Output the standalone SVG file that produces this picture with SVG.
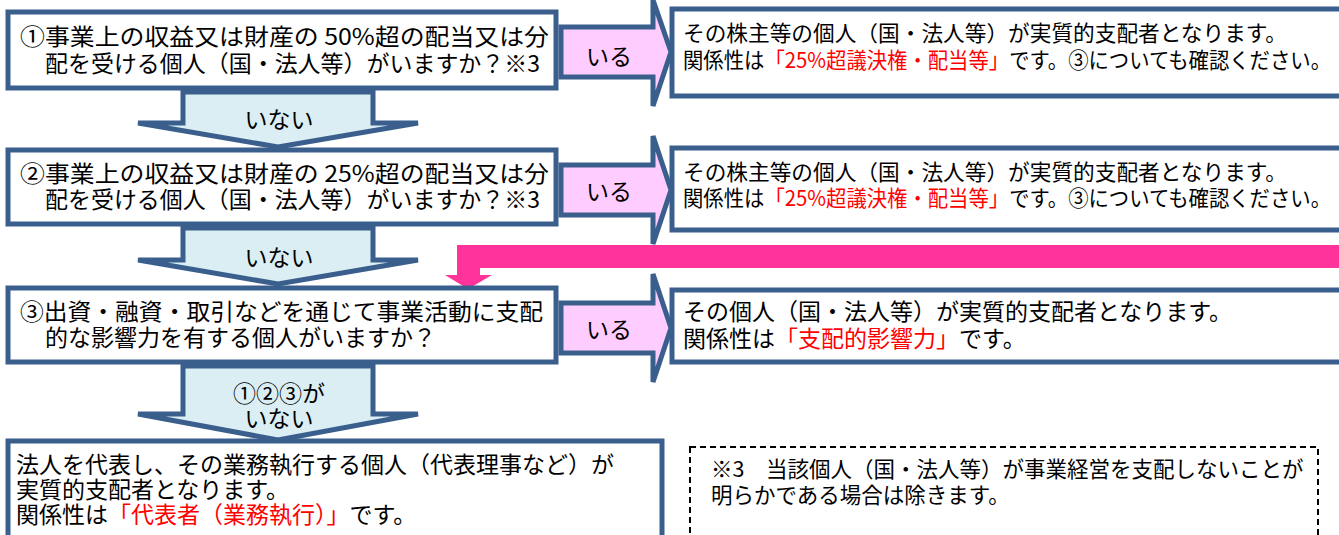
<svg xmlns="http://www.w3.org/2000/svg" width="1339" height="535" viewBox="0 0 1339 535">
<style>
.box{fill:#fff;stroke:#3A5F8D;stroke-width:5}
.dn{fill:#DAEEF3;stroke:#3A5F8D;stroke-width:5;stroke-linejoin:miter}
.ir{fill:#FFCCFF;stroke:#3A5F8D;stroke-width:5;stroke-linejoin:miter}
.t{font-family:"Noto Sans CJK JP","Noto Sans CJK SC",sans-serif;fill:#000}
.q{font-size:23px}
.r{font-size:21.5px}
.red{fill:#FF0000}
.lab{font-size:23px;text-anchor:middle}
</style>
<g id="connectors">
  <path id="pink" d="M1345,245 L1345,268 L480,268 L480,275 L492,275 L468,289 L445,275 L457,275 L457,245 Z" fill="#FF3399"/>
  <g id="no1"><path class="dn" d="M183,92 L373,92 L373,123 L418,123 L278,147 L138,123 L183,123 Z"/><text class="t lab" x="279" y="128">いない</text></g>
  <g id="no2"><path class="dn" d="M183,228 L373,228 L373,260 L418,260 L278,284 L138,260 L183,260 Z"/><text class="t lab" x="279" y="266">いない</text></g>
  <g id="no3"><path class="dn" d="M183,366 L373,366 L373,414 L418,414 L278,440 L138,414 L183,414 Z"/><text class="t lab" x="279" y="402">①②③が</text><text class="t lab" x="279" y="427">いない</text></g>
  <g id="yes1"><path class="ir" d="M561,27 L653,27 L653,0 L671,52 L653,106 L653,77 L561,77 Z"/><text class="t lab" x="609" y="65">いる</text></g>
  <g id="yes2"><path class="ir" d="M561,165 L653,165 L653,136 L671,190 L653,244 L653,215 L561,215 Z"/><text class="t lab" x="609" y="200">いる</text></g>
  <g id="yes3"><path class="ir" d="M561,303 L653,303 L653,274 L671,328 L653,382 L653,353 L561,353 Z"/><text class="t lab" x="609" y="338">いる</text></g>
</g>
<g id="q1">
  <rect class="box" x="8" y="12" width="548" height="76"/>
  <text class="t q" x="20" y="45" textLength="529" lengthAdjust="spacingAndGlyphs">①事業上の収益又は財産の 50%超の配当又は分</text>
  <text class="t q" x="45" y="72" textLength="495" lengthAdjust="spacingAndGlyphs">配を受ける個人（国・法人等）がいますか？※3</text>
</g>
<g id="q2">
  <rect class="box" x="8" y="150" width="548" height="74"/>
  <text class="t q" x="20" y="182" textLength="529" lengthAdjust="spacingAndGlyphs">②事業上の収益又は財産の 25%超の配当又は分</text>
  <text class="t q" x="45" y="208" textLength="495" lengthAdjust="spacingAndGlyphs">配を受ける個人（国・法人等）がいますか？※3</text>
</g>
<g id="q3">
  <rect class="box" x="8" y="288" width="548" height="74"/>
  <text class="t q" x="20" y="320" textLength="523" lengthAdjust="spacingAndGlyphs">③出資・融資・取引などを通じて事業活動に支配</text>
  <text class="t q" x="45" y="346">的な影響力を有する個人がいますか？</text>
</g>
<g id="a1">
  <rect class="box" x="672" y="9" width="680" height="87"/>
  <text class="t r" x="683" y="41" textLength="604" lengthAdjust="spacingAndGlyphs">その株主等の個人（国・法人等）が実質的支配者となります。</text>
  <text class="t r" x="683" y="68" textLength="648" lengthAdjust="spacingAndGlyphs">関係性は<tspan class="red">「25%超議決権・配当等」</tspan>です。③についても確認ください。</text>
</g>
<g id="a2">
  <rect class="box" x="672" y="148" width="680" height="82"/>
  <text class="t r" x="683" y="180" textLength="604" lengthAdjust="spacingAndGlyphs">その株主等の個人（国・法人等）が実質的支配者となります。</text>
  <text class="t r" x="683" y="206" textLength="648" lengthAdjust="spacingAndGlyphs">関係性は<tspan class="red">「25%超議決権・配当等」</tspan>です。③についても確認ください。</text>
</g>
<g id="a3">
  <rect class="box" x="672" y="290" width="680" height="72"/>
  <text class="t q" x="683" y="320">その個人（国・法人等）が実質的支配者となります。</text>
  <text class="t q" x="683" y="347">関係性は<tspan class="red">「支配的影響力」</tspan>です。</text>
</g>
<g id="a4">
  <rect class="box" x="8" y="441" width="654" height="110"/>
  <text class="t q" x="16" y="473">法人を代表し、その業務執行する個人（代表理事など）が</text>
  <text class="t q" x="16" y="498">実質的支配者となります。</text>
  <text class="t q" x="16" y="523">関係性は<tspan class="red">「代表者（業務執行）」</tspan>です。</text>
</g>
<g id="note">
  <rect x="690" y="447" width="628" height="110" fill="#fff" stroke="#000" stroke-width="2" stroke-dasharray="6,4"/>
  <text class="t r" x="711" y="477">※3　当該個人（国・法人等）が事業経営を支配しないことが</text>
  <text class="t r" x="711" y="503">明らかである場合は除きます。</text>
</g>
</svg>
